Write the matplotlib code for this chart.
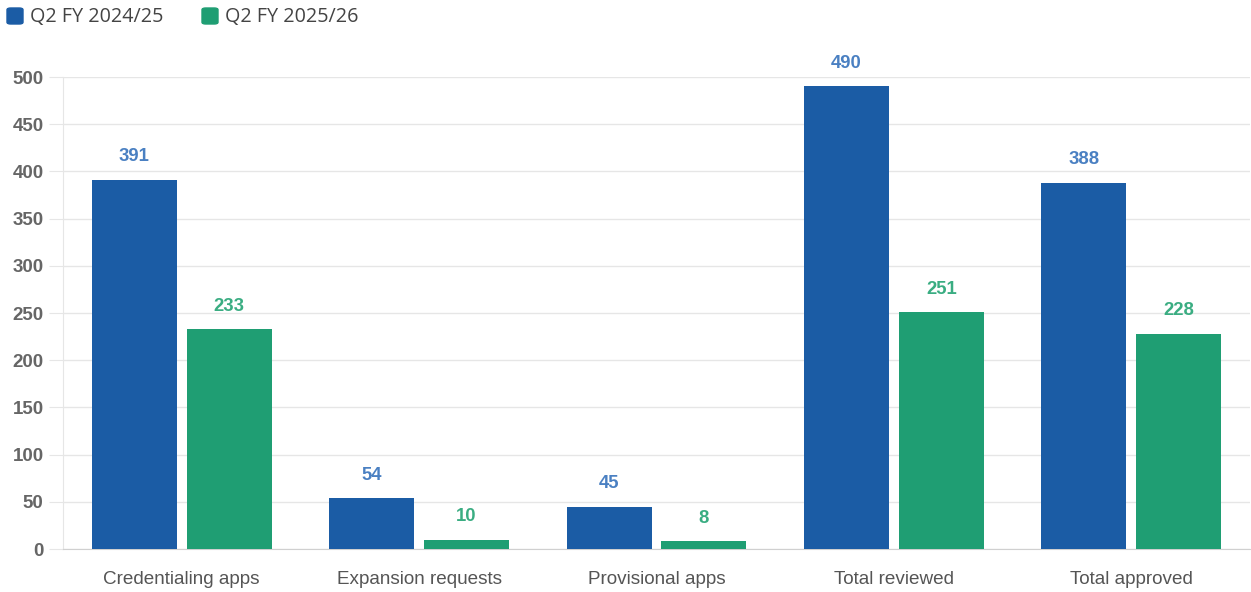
import matplotlib
matplotlib.use("Agg")
import matplotlib.pyplot as plt
import numpy as np
from matplotlib.patches import FancyBboxPatch

categories = ["Credentialing apps", "Expansion requests", "Provisional apps",
              "Total reviewed", "Total approved"]
series_names = ["Q2 FY 2024/25", "Q2 FY 2025/26"]
values_2425 = [391, 54, 45, 490, 388]
values_2526 = [233, 10, 8, 251, 228]
y_ticks = [0, 50, 100, 150, 200, 250, 300, 350, 400, 450, 500]

bar_colors = ["#1b5ca5", "#1f9e73"]
label_colors = ["#4a80c2", "#3aad82"]

fig = plt.figure(figsize=(12.51, 5.92), dpi=100)
ax = fig.add_axes([63 / 1251, 1 - 549 / 592, (1250 - 63) / 1251, (549 - 77) / 592])

x = np.arange(len(categories))
width = 0.358
offset = 0.2
for vals, dx, col, lcol in [(values_2425, -offset, bar_colors[0], label_colors[0]),
                            (values_2526, offset, bar_colors[1], label_colors[1])]:
    bars = ax.bar(x + dx, vals, width, color=col, zorder=3, linewidth=0)
    for b, v in zip(bars, vals):
        ax.annotate(str(v), (b.get_x() + b.get_width() / 2, v),
                    xytext=(0, 16.5), textcoords="offset points",
                    ha="center", va="center", fontsize=13.3, fontweight="bold",
                    color=lcol, family="Liberation Sans")

ax.set_xlim(-0.5, len(categories) - 0.5)
ax.set_ylim(0, 500)
ax.set_yticks(y_ticks)
ax.set_xticks(x)
ax.set_xticklabels(categories, fontsize=13.6, color="#555555", family="Liberation Sans")
for t in ax.get_yticklabels():
    t.set_fontsize(13.5)
    t.set_color("#666666")
    t.set_fontweight("bold")
    t.set_family("Liberation Sans")

ax.grid(axis="y", color="#e6e6e6", linewidth=1, zorder=0)
ax.tick_params(axis="y", length=10, color="#e6e6e6", pad=4)
ax.tick_params(axis="x", length=0, pad=16)
for s in ["top", "right"]:
    ax.spines[s].set_visible(False)
ax.spines["left"].set_color("#e6e6e6")
ax.spines["bottom"].set_color("#d0d0d0")

# legend drawn as rounded swatches in figure pixels
legend_x = [7, 202]
for lx, name, col in zip(legend_x, series_names, bar_colors):
    fig.patches.append(FancyBboxPatch((lx / 1251, 1 - 24 / 592), 16 / 1251, 16 / 592,
                                      boxstyle="round,pad=0,rounding_size=0.003",
                                      transform=fig.transFigure, color=col))
    fig.text((lx + 23) / 1251, 1 - 17 / 592, name, fontsize=14.2, color="#444444",
             family="Open Sans", va="center", ha="left")

fig.savefig("out.png", dpi=100)
